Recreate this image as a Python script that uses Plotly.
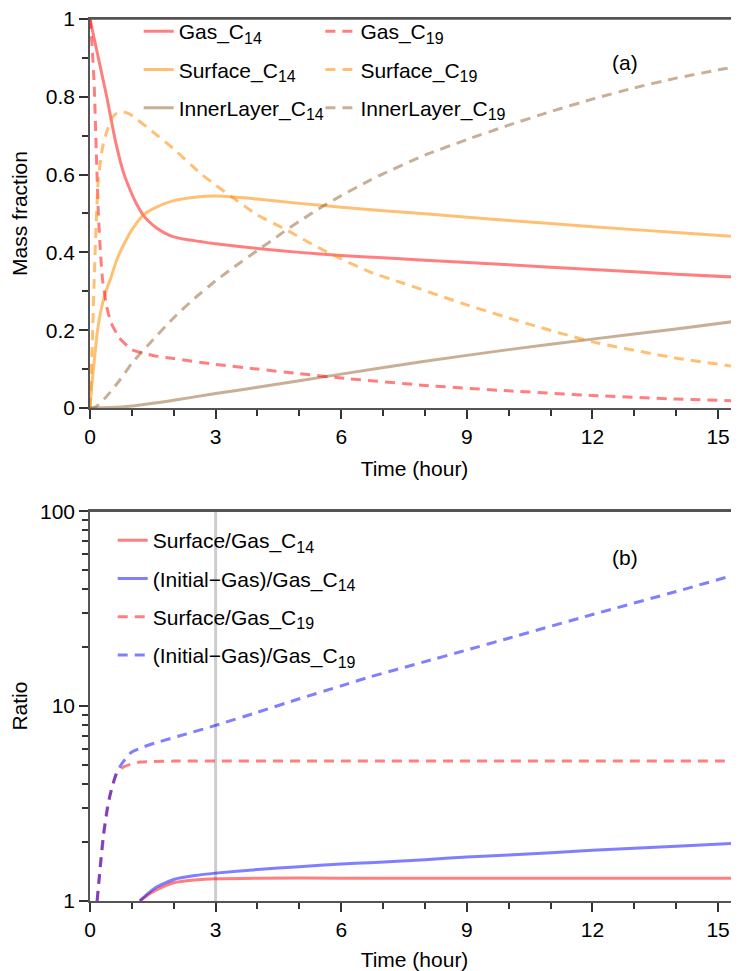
import plotly.graph_objects as go
from plotly.subplots import make_subplots

# ---------------- data: panel (a) mass fractions ----------------
t_gas14 = [0, 0.1, 0.2, 0.3, 0.4, 0.6, 0.8, 1.0, 1.1, 1.27, 1.4, 1.6, 1.8, 2.0, 2.3, 2.63, 3, 4, 5, 6, 7, 8, 10, 12, 14, 15.5]
gas14 = [1.0, 0.95, 0.9, 0.85, 0.8, 0.69, 0.605, 0.55, 0.527, 0.496, 0.48, 0.462, 0.449, 0.44, 0.433, 0.428, 0.422, 0.41, 0.40, 0.392, 0.386, 0.38, 0.368, 0.356, 0.344, 0.336]

t_surf14 = [0, 0.05, 0.1, 0.18, 0.27, 0.38, 0.5, 0.62, 0.76, 1.0, 1.27, 1.6, 2.0, 2.5, 3, 3.5, 4, 5, 6, 7, 8, 10, 12, 14, 15.5]
surf14 = [0, 0.065, 0.12, 0.2, 0.255, 0.30, 0.335, 0.375, 0.41, 0.458, 0.496, 0.517, 0.533, 0.542, 0.545, 0.542, 0.537, 0.526, 0.516, 0.507, 0.499, 0.482, 0.466, 0.451, 0.44]

t_inner14 = [0, 0.5, 1, 2, 3, 4, 5, 6, 8, 10, 12, 14, 15.5]
inner14 = [0, 0.001, 0.005, 0.02, 0.037, 0.053, 0.07, 0.087, 0.12, 0.15, 0.177, 0.203, 0.224]

t_gas19 = [0, 0.05, 0.1, 0.15, 0.2, 0.25, 0.3, 0.4, 0.5, 0.7, 1.0, 1.5, 2, 3, 4, 5, 6, 8, 10, 12, 14, 15.5]
gas19 = [1.0, 0.93, 0.83, 0.66, 0.5, 0.4, 0.33, 0.26, 0.22, 0.18, 0.15, 0.135, 0.127, 0.112, 0.1, 0.088, 0.077, 0.058, 0.044, 0.032, 0.023, 0.018]

t_surf19 = [0, 0.05, 0.1, 0.15, 0.2, 0.3, 0.4, 0.5, 0.6, 0.75, 0.9, 1.0, 1.5, 2.0, 2.63, 3.0, 3.38, 4.0, 4.69, 5.2, 5.77, 6.68, 7.5, 9, 10.5, 12, 13.9, 15.5]
surf19 = [0, 0.15, 0.33, 0.48, 0.59, 0.67, 0.71, 0.74, 0.755, 0.762, 0.758, 0.752, 0.71, 0.666, 0.604, 0.573, 0.543, 0.496, 0.458, 0.427, 0.395, 0.35, 0.32, 0.265, 0.215, 0.17, 0.13, 0.105]

t_inner19 = [0, 0.1, 0.2, 0.4, 0.7, 1.0, 1.5, 2, 2.5, 3, 3.5, 4, 4.5, 4.69, 5, 5.57, 6, 6.68, 7, 8, 9, 10, 11, 12, 13, 14, 15, 15.5]
inner19 = [0, 0.001, 0.008, 0.03, 0.07, 0.115, 0.175, 0.232, 0.282, 0.327, 0.367, 0.405, 0.443, 0.458, 0.48, 0.519, 0.546, 0.585, 0.602, 0.65, 0.69, 0.727, 0.762, 0.794, 0.823, 0.848, 0.869, 0.878]

# ---------------- data: panel (b) ratios ----------------
t_rs14 = [1.19, 1.4, 1.59, 2.0, 2.5, 3, 4, 6, 9, 12, 15.5]
rs14 = [1.0, 1.08, 1.14, 1.24, 1.28, 1.30, 1.31, 1.31, 1.31, 1.31, 1.31]

t_ri14 = [1.19, 1.4, 1.59, 2.0, 2.5, 3, 4, 5, 6, 6.68, 8, 9, 10, 12, 14, 15.5]
ri14 = [1.0, 1.1, 1.18, 1.29, 1.35, 1.39, 1.45, 1.5, 1.55, 1.57, 1.63, 1.68, 1.72, 1.82, 1.91, 1.98]

t_rs19 = [0.17, 0.24, 0.32, 0.41, 0.48, 0.55, 0.64, 0.8, 1.0, 1.19, 1.5, 2, 6, 10, 15.5]
rs19 = [1.0, 1.44, 2.1, 3.0, 3.5, 4.0, 4.5, 4.87, 5.05, 5.16, 5.2, 5.22, 5.22, 5.22, 5.22]

t_ri19 = [0.17, 0.32, 0.48, 0.64, 0.8, 0.99, 1.3, 1.59, 2.31, 3, 4, 5, 6, 6.68, 8, 9, 10, 12, 14, 15.5]
ri19 = [1.0, 2.2, 3.5, 4.6, 5.2, 5.8, 6.2, 6.5, 7.2, 7.96, 9.3, 10.9, 12.7, 14.1, 16.9, 19.4, 22.3, 29.5, 38.7, 47.8]

x_ticks = [0, 3, 6, 9, 12, 15]
marker_time = 3

RED = "rgba(255,0,0,0.5)"
ORANGE = "rgba(255,140,0,0.55)"
TAN = "rgba(145,95,45,0.5)"
BLUE = "rgba(0,0,255,0.5)"
DASH = "10px,7px"
FONT = "Liberation Sans, Arial, sans-serif"
FS = 21


def sub(base, s):
    return base + '<sub><span style="font-size:16px">' + s + '</span></sub>'


fig = make_subplots(rows=2, cols=1, vertical_spacing=0.117)


def add(x, y, name, color, dash, row, legend, grp):
    fig.add_trace(go.Scatter(x=x, y=y, mode="lines", name=name, legend=legend,
                             legendgroup=grp, line=dict(color=color, width=3, dash=dash,
                                                        shape="spline", smoothing=0.5)),
                  row=row, col=1)


add(t_gas14, gas14, sub("Gas_C", "14"), RED, "solid", 1, "legend", "a1")
add(t_surf14, surf14, sub("Surface_C", "14"), ORANGE, "solid", 1, "legend", "a2")
add(t_inner14, inner14, sub("InnerLayer_C", "14"), TAN, "solid", 1, "legend", "a3")
add(t_gas19, gas19, sub("Gas_C", "19"), RED, DASH, 1, "legend2", "b1")
add(t_surf19, surf19, sub("Surface_C", "19"), ORANGE, DASH, 1, "legend2", "b2")
add(t_inner19, inner19, sub("InnerLayer_C", "19"), TAN, DASH, 1, "legend2", "b3")

add(t_rs14, rs14, sub("Surface/Gas_C", "14"), RED, "solid", 2, "legend3", "c1")
add(t_ri14, ri14, sub("(Initial\u2212Gas)/Gas_C", "14"), BLUE, "solid", 2, "legend3", "c2")
add(t_rs19, rs19, sub("Surface/Gas_C", "19"), RED, DASH, 2, "legend3", "c3")
add(t_ri19, ri19, sub("(Initial\u2212Gas)/Gas_C", "19"), BLUE, DASH, 2, "legend3", "c4")

fig.add_vline(x=marker_time, line=dict(color="rgb(205,205,205)", width=3), layer="below", row=2, col=1)

# top frame line of each panel
for yr in ["y domain", "y2 domain"]:
    fig.add_shape(type="line", xref="x domain" if yr == "y domain" else "x2 domain", yref=yr,
                  x0=0, x1=1, y0=1, y1=1, line=dict(color="#555", width=1.5), layer="above")

axis_common = dict(showline=True, linecolor="#555", linewidth=1.5, ticks="outside",
                   ticklen=9, tickwidth=1.5, tickcolor="#333", showgrid=False, zeroline=False,
                   automargin=False, ticklabeloverflow="allow",
                   tickfont=dict(size=FS, color="black", family=FONT))
xcommon = dict(axis_common, range=[0, 15.5], tickvals=x_ticks, mirror=True,
               minor=dict(ticks="outside", ticklen=6, tickwidth=1.5, tickcolor="#333", dtick=1, tick0=0),
               title=dict(text="Time (hour)", font=dict(size=FS, family=FONT, color="black"), standoff=14))
fig.update_xaxes(**xcommon, row=1, col=1)
fig.update_xaxes(**xcommon, row=2, col=1)
fig.update_yaxes(axis_common, range=[0, 1], dtick=0.2, tick0=0,
                 minor=dict(ticks="outside", ticklen=6, tickwidth=1.5, tickcolor="#333", dtick=0.1, tick0=0),
                 title=dict(text="Mass fraction", font=dict(size=FS, family=FONT, color="black"), standoff=12),
                 row=1, col=1)
fig.update_yaxes(axis_common, type="log", range=[0, 2], tickvals=[1, 10, 100], ticktext=["1", "10", "100"],
                 minor=dict(ticks="outside", ticklen=6, tickwidth=1.5, tickcolor="#333", dtick="D1"),
                 title=dict(text="Ratio", font=dict(size=FS, family=FONT, color="black"), standoff=12),
                 row=2, col=1)
fig.update_layout(yaxis=dict(domain=[0.559, 1.0]), yaxis2=dict(domain=[0.0, 0.442]))

leg = dict(font=dict(size=FS, family=FONT, color="black"), bgcolor="rgba(0,0,0,0)",
           tracegroupgap=8, xanchor="left", yanchor="top", itemwidth=30)
fig.update_layout(
    width=731, height=963,
    margin=dict(l=82, r=0, t=11, b=70),
    plot_bgcolor="white", paper_bgcolor="white",
    font=dict(family=FONT, size=FS, color="black"),
    legend=dict(leg, x=0.075, y=1.009),
    legend2=dict(leg, x=0.355, y=1.009),
    legend3=dict(leg, x=0.035, y=0.432),
    annotations=[
        dict(text="(a)", x=0.847, y=0.966, xref="paper", yref="paper", showarrow=False,
             font=dict(size=FS, family=FONT, color="black")),
        dict(text="(b)", x=0.847, y=0.39, xref="paper", yref="paper", showarrow=False,
             font=dict(size=FS, family=FONT, color="black")),
    ],
)

fig.write_html("out.html")
